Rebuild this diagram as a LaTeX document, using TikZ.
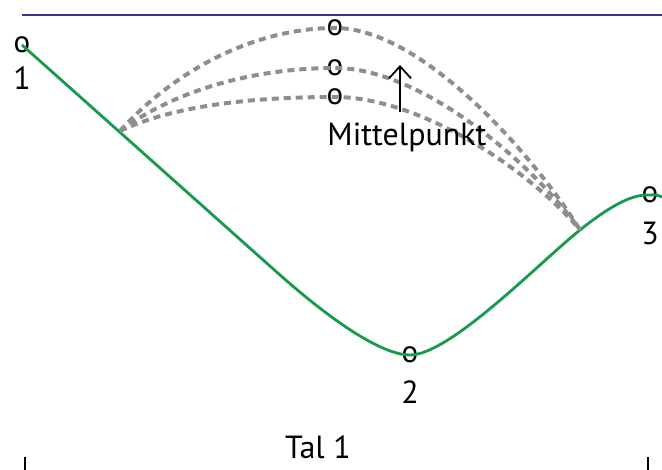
\documentclass[tikz,border=0pt]{standalone}
\usepackage{fontspec}
\setmainfont{PT Sans}
\usetikzlibrary{arrows.meta}
\definecolor{bahn}{HTML}{159A4E}
\definecolor{linie}{HTML}{35358F}
\definecolor{bogen}{HTML}{8E8E8E}
\tikzset{
  pkt/.style={inner sep=0pt,font=\fontsize{31}{33}\selectfont},
  txt/.style={inner sep=0pt,font=\fontsize{32}{35}\selectfont},
  kurve/.style={draw=bahn,line width=2.8pt},
  pfad/.style={draw=bogen,line width=4pt,dash pattern=on 7pt off 5pt},
  pfeil/.style={-{Straight Barb[length=12pt,width=22pt,line width=1.8pt]},line width=1.8pt},
}
\begin{document}
\begin{tikzpicture}[x=1pt,y=-1pt]
  \useasboundingbox (0,0) rectangle (662,470);
  \draw[linie,line width=2.2pt] (22,15) -- (662,15);
  % Punkte der Kurve
  \node[pkt] (p1) at (22,45) {o};
  \node[pkt] (p2) at (410,355) {o};
  \node[pkt] (p3) at (650,195) {o};
  \node[txt] (l1) at (22,78) {1};
  \node[txt] (l2) at (410,392) {2};
  \node[txt] (l3) at (650,233) {3};
  \draw[kurve] (p1.center) -- (280,275) .. controls (340,328) and (385,355) .. (p2.center)
    .. controls (450,355) and (540,262) .. (580,230)
    .. controls (615,202) and (635,194) .. (p3.center)
    .. controls (655,194) and (660,196) .. (662,197);
  % Bögen über den Mittelpunkt
  \coordinate (links) at (120,131);
  \coordinate (rechts) at (580,230);
  \node[pkt] (m1) at (335,28) {o};
  \node[pkt] (m2) at (335,68) {o};
  \node[pkt] (m3) at (335,97) {o};
  \foreach \n/\y/\ya/\yb in {m1/28/70/150,m2/68/90/160,m3/97/105/170}
    \draw[pfad] (links) .. controls (175,\ya) and (255,\y) .. (\n.center)
      .. controls (420,\y) and (530,\yb) .. (rechts);
  \node[txt] (mp) at (407,137) {Mittelpunkt};
  \coordinate (pf) at (400,65);
  \draw[pfeil] (mp.north -| pf) ++(0,-10) coordinate (pfa) -- (pf);
  % Tal
  \node[txt] (tal) at (318,447) {Tal 1};
  \coordinate (ta) at (25,457);
  \coordinate (tb) at (648,457);
  \draw[line width=1.4pt] (ta) -- ++(0,13);
  \draw[line width=1.4pt] (tb) -- ++(0,13);
\end{tikzpicture}
\end{document}
